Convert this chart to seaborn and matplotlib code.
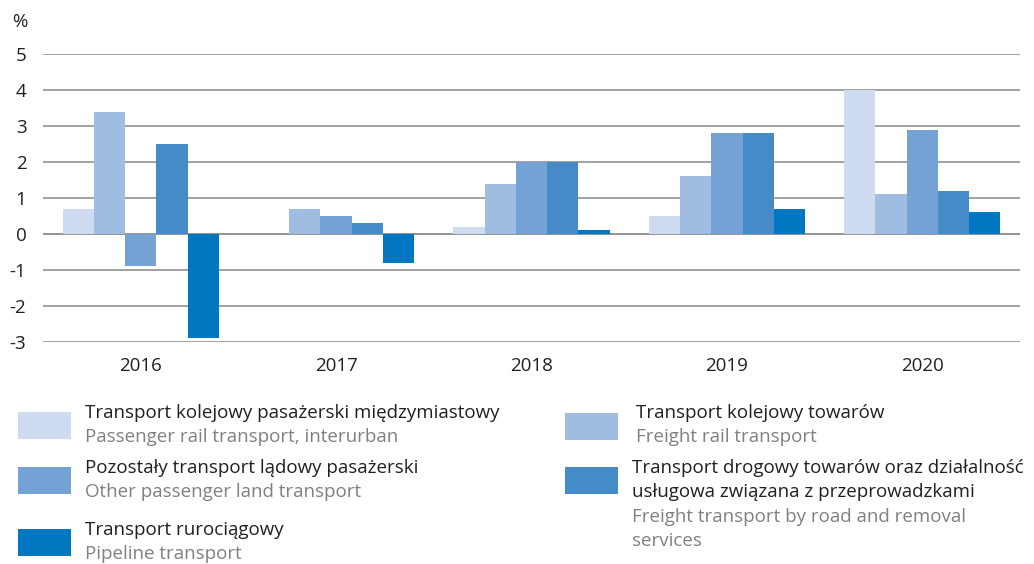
import pandas as pd
import seaborn as sns
import matplotlib.pyplot as plt
from matplotlib.patches import Rectangle

years = ["2016", "2017", "2018", "2019", "2020"]
series_pl = [
    "Transport kolejowy pasażerski międzymiastowy",
    "Transport kolejowy towarów",
    "Pozostały transport lądowy pasażerski",
    "Transport drogowy towarów oraz działalność\nusługowa związana z przeprowadzkami",
    "Transport rurociągowy",
]
series_en = [
    "Passenger rail transport, interurban",
    "Freight rail transport",
    "Other passenger land transport",
    "Freight transport by road and removal\nservices",
    "Pipeline transport",
]
rail_pass = [0.7, 0.0, 0.2, 0.5, 4.0]
rail_freight = [3.4, 0.7, 1.4, 1.6, 1.1]
other_pass = [-0.9, 0.5, 2.0, 2.8, 2.9]
road_freight = [2.5, 0.3, 2.0, 2.8, 1.2]
pipeline = [-2.9, -0.8, 0.1, 0.7, 0.6]
colors = ["#cfdbf0", "#a1bce1", "#74a2d5", "#458bc8", "#0077c0"]

values = [rail_pass, rail_freight, other_pass, road_freight, pipeline]
rows = []
for name, vals in zip(series_pl, values):
    for y, v in zip(years, vals):
        rows.append({"year": y, "series": name, "value": v})
df = pd.DataFrame(rows)

sns.set_style("white")
plt.rcParams["font.family"] = ["Open Sans", "DejaVu Sans"]

W, H = 1034, 564
fig = plt.figure(figsize=(10.34, 5.64), dpi=100)
ax = fig.add_axes([43 / W, 1 - 342 / H, (1020 - 43) / W, (342 - 54) / H])

sns.barplot(data=df, x="year", y="value", hue="series", hue_order=series_pl,
            palette=colors, errorbar=None, width=0.8, saturation=1,
            linewidth=0, legend=False, ax=ax)

ax.set_ylim(-3, 5)
ax.set_xlim(-0.5, 4.5)
ax.set_yticks(range(-3, 6))
ax.set_yticklabels([str(t) for t in range(-3, 6)])
ax.yaxis.grid(True, color="#9a9a9a", linewidth=1.3)
ax.set_axisbelow(True)
ax.axhline(0, color="#777777", linewidth=1.4, zorder=0.5)
for s in ax.spines.values():
    s.set_visible(False)
ax.tick_params(axis="y", length=0, pad=12, labelsize=13.5, labelcolor="#231f20")
ax.tick_params(axis="x", length=0, pad=11, labelsize=13.5, labelcolor="#231f20")
ax.set_xlabel("")
ax.set_ylabel("")

fig.text(12 / W, 1 - 22 / H, "%", fontsize=13.5, color="#231f20", va="center")

# legend
def legend_item(px, py, tx, ty, color, pl, en):
    fig.add_artist(Rectangle((px / W, 1 - (py + 27) / H), 53 / W, 27 / H,
                             transform=fig.transFigure, color=color, lw=0))
    lines = [(t, "#231f20") for t in pl.split("\n")] + \
            [(t, "#808080") for t in en.split("\n")]
    for i, (t, c) in enumerate(lines):
        fig.text(tx / W, 1 - (ty + 24.3 * i) / H, t, fontsize=13.5,
                 color=c, va="center")

legend_item(18, 412, 85, 413, colors[0], series_pl[0], series_en[0])
legend_item(18, 467, 85, 468, colors[2], series_pl[2], series_en[2])
legend_item(18, 529, 85, 530, colors[4], series_pl[4], series_en[4])
legend_item(565, 413, 636, 413, colors[1], series_pl[1], series_en[1])
legend_item(565, 467, 632, 468, colors[3], series_pl[3], series_en[3])

fig.savefig("out.png", dpi=100)
